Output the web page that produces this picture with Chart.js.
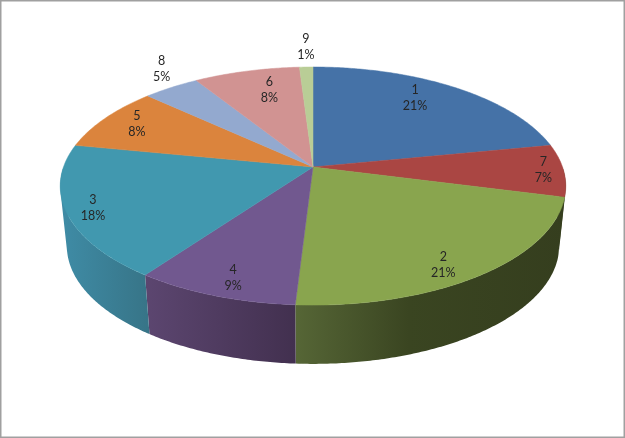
<!DOCTYPE html>
<html>
<head>
<meta charset="utf-8">
<title>Pie</title>
<script src="https://cdn.jsdelivr.net/npm/chart.js@4"></script>
<style>
  html, body { margin: 0; padding: 0; background: #fff; overflow: hidden; }
  canvas { display: block; }
</style>
</head>
<body>
<canvas id="pieChart" width="625" height="438"></canvas>
<script>
// data, clockwise from 12 o'clock
const categories = ["1", "7", "2", "4", "3", "5", "8", "6", "9"];
const sliceValues = [21.9, 7.1, 21.9, 9, 18.1, 8.8, 4.2, 7.9, 1];
const percentLabels = ["21%", "7%", "21%", "9%", "18%", "8%", "5%", "8%", "1%"];

// styles
const topColors = ["#4572a7", "#aa4643", "#89a54e", "#71588f", "#4198af", "#db843d", "#93a9cf", "#d19392", "#b9cd96"];
const wallStops = [
  ["#2c4a6e", "#2c4a6e"],
  ["#353e1e", "#353e1e"], // barely shows at the right edge, reads as the dark green
  ["#566636", "#3a4521", "#353e1e"],
  ["#5c4670", "#42304f"],
  ["#3f8ca6", "#377487"],
  ["#8a5326", "#8a5326"],
  ["#5d6b83", "#5d6b83"],
  ["#845d5c", "#845d5c"],
  ["#75825f", "#75825f"],
];
// label anchor per slice: radius on the disc, degrees away from the slice middle
const labelRadius = [0.797, 0.92, 0.873, 0.874, 0.9, 0.85, 1.207, 0.77, 1.24];
const labelTurn = [-4.9, 0, 4.2, -1.1, -0.5, 1, 4.1, 3.1, 0.2];

// perspective of the disc on the page
const view = { cx: 313, cy: 167, rx: 249.5, ay: 116, k: 0.16, bottomRx: 243, bottomAy: 115, drop: 60 };

function project(u, v, bottom) {
  const w = 1 - view.k * v;
  const rx = bottom ? view.bottomRx : view.rx;
  const ay = bottom ? view.bottomAy : view.ay;
  return {
    x: view.cx + (rx * u) / w,
    y: view.cy + (bottom ? view.drop : 0) + (ay * v) / w,
  };
}

function rimPoints(a0, a1, bottom) {
  const steps = Math.max(2, Math.ceil((a1 - a0) / 0.01));
  const pts = [];
  for (let i = 0; i <= steps; i++) {
    const a = a0 + ((a1 - a0) * i) / steps;
    pts.push(project(Math.cos(a), Math.sin(a), bottom));
  }
  return pts;
}

function tracePath(ctx, pts) {
  ctx.beginPath();
  pts.forEach((p, i) => (i ? ctx.lineTo(p.x, p.y) : ctx.moveTo(p.x, p.y)));
  ctx.closePath();
}

// adds a quad to the current path, always wound the same way so a single fill has no seams
function addQuad(ctx, q) {
  let area = 0;
  q.forEach((p, i) => {
    const n = q[(i + 1) % q.length];
    area += p.x * n.y - n.x * p.y;
  });
  const pts = area < 0 ? q.slice().reverse() : q;
  pts.forEach((p, i) => (i ? ctx.lineTo(p.x, p.y) : ctx.moveTo(p.x, p.y)));
  ctx.closePath();
}

const pie3d = {
  id: "pie3d",
  beforeDraw(chart) {
    const ctx = chart.ctx;
    ctx.save();
    ctx.strokeStyle = "#a0a0a0";
    ctx.lineWidth = 1.5;
    ctx.strokeRect(0.75, 0.75, chart.width - 1.5, chart.height - 1.5);
    ctx.restore();
  },
  // the arcs keep their angles from the pie controller, only the drawing is tilted
  beforeDatasetsDraw(chart) {
    const ctx = chart.ctx;
    const arcs = chart.getDatasetMeta(0).data;
    ctx.save();

    // side wall, only the part facing us
    arcs.forEach((arc, i) => {
      const a0 = Math.max(arc.startAngle, 0);
      const a1 = Math.min(arc.endAngle, Math.PI);
      if (a1 <= a0) return;
      const top = rimPoints(a0, a1, false);
      const low = rimPoints(a0, a1, true);
      const xs = top.concat(low).map((p) => p.x);
      const grad = ctx.createLinearGradient(Math.min(...xs), 0, Math.max(...xs), 0);
      const stops = wallStops[i];
      if (stops.length === 3) {
        grad.addColorStop(0, stops[0]);
        grad.addColorStop(0.42, stops[1]);
        grad.addColorStop(1, stops[2]);
      } else {
        grad.addColorStop(0, stops[0]);
        grad.addColorStop(1, stops[1]);
      }
      ctx.fillStyle = grad;
      ctx.beginPath();
      for (let s = 0; s < top.length - 1; s++) {
        addQuad(ctx, [top[s], top[s + 1], low[s + 1], low[s]]);
      }
      ctx.fill("nonzero");
    });

    // top face
    arcs.forEach((arc, i) => {
      const pts = [project(0, 0, false)].concat(rimPoints(arc.startAngle, arc.endAngle, false));
      tracePath(ctx, pts);
      ctx.fillStyle = topColors[i];
      ctx.strokeStyle = topColors[i];
      ctx.lineWidth = 0.5;
      ctx.fill();
      ctx.stroke();
    });

    // data labels
    ctx.fillStyle = "#262626";
    ctx.font = "12.5px Lato";
    ctx.textAlign = "center";
    ctx.textBaseline = "middle";
    arcs.forEach((arc, i) => {
      const mid = (arc.startAngle + arc.endAngle) / 2 + (labelTurn[i] * Math.PI) / 180;
      const p = project(labelRadius[i] * Math.cos(mid), labelRadius[i] * Math.sin(mid), false);
      ctx.fillText(categories[i], p.x, p.y - 8);
      ctx.fillText(percentLabels[i], p.x, p.y + 8);
    });

    ctx.restore();
    return false;
  },
};

new Chart(document.getElementById("pieChart"), {
  type: "pie",
  data: {
    labels: categories,
    datasets: [{ data: sliceValues, backgroundColor: topColors, borderWidth: 0 }],
  },
  options: {
    responsive: false,
    animation: false,
    events: [],
    plugins: { legend: { display: false }, tooltip: { enabled: false } },
  },
  plugins: [pie3d],
});
</script>
</body>
</html>
